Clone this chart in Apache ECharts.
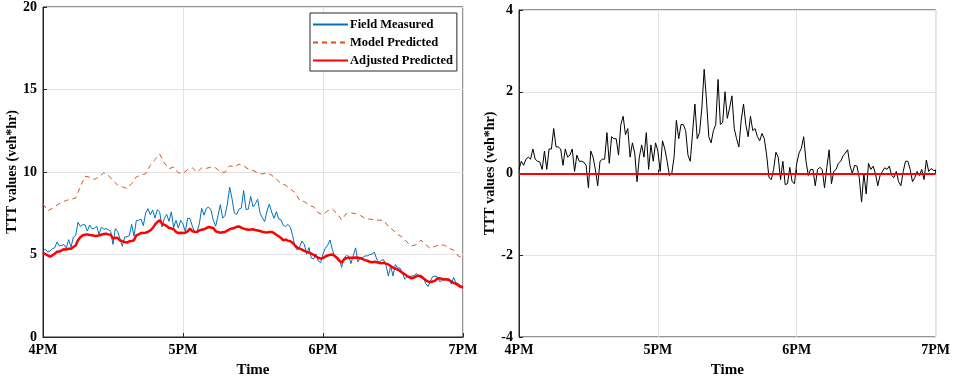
<!DOCTYPE html>
<html>
<head>
<meta charset="utf-8">
<script src="https://cdn.jsdelivr.net/npm/echarts@6/dist/echarts.min.js"></script>
<style>
  html, body { margin: 0; padding: 0; background: #fff; }
  #chart { width: 953px; height: 383px; }
</style>
</head>
<body>
<div id="chart"></div>
<script>
// Time axis: one sample per minute from 4PM (minute 0) to 7PM (minute 180)
const timeTicks = ['4PM', '5PM', '6PM', '7PM'];
const seriesNames = ['Field Measured', 'Model Predicted', 'Adjusted Predicted'];

// Total travel time, veh*hr, one value per minute
const fieldMeasured = [
  5.20,5.32,5.15,5.21,5.35,5.40,5.76,5.53,5.55,5.60,
  5.40,5.90,5.45,6.05,6.15,6.96,6.70,6.81,6.80,6.42,
  6.78,6.56,6.59,6.72,6.21,6.65,6.54,6.56,6.50,6.40,
  5.61,6.57,6.40,5.95,5.50,6.06,6.07,6.15,6.82,6.11,
  7.06,7.07,7.15,6.75,7.52,7.78,7.41,7.70,7.21,7.72,
  7.57,6.67,7.20,7.43,7.01,7.58,6.63,7.07,6.60,7.07,
  6.85,6.37,7.20,7.17,6.71,6.33,6.37,6.86,7.80,7.38,
  7.80,7.87,7.69,7.06,6.71,7.36,8.02,7.20,7.37,8.05,
  9.08,8.38,7.51,7.43,7.75,7.82,8.87,7.73,7.75,8.52,
  7.88,8.08,8.35,7.52,7.23,7.00,7.64,8.06,7.57,7.20,
  7.60,7.15,7.10,6.76,6.70,6.82,6.65,6.15,5.45,5.27,
  5.46,5.82,5.62,5.01,5.42,4.78,4.73,5.03,4.60,4.51,
  5.03,5.38,5.56,5.88,5.30,4.87,4.88,4.72,4.22,4.80,
  4.93,4.90,4.45,4.95,5.40,4.55,4.82,4.82,4.91,4.92,
  4.99,5.02,5.14,4.73,4.50,4.66,4.68,4.35,3.70,4.30,
  3.70,4.39,4.18,4.18,3.90,3.50,3.65,3.67,3.70,3.70,
  3.86,3.67,3.58,3.61,3.25,3.06,3.38,3.66,3.70,3.65,
  3.36,3.42,3.53,3.45,3.55,3.21,3.61,3.27,3.24,3.12,
  3.07
];

const adjustedPredicted = [
  5.10,5.02,4.95,4.86,4.95,5.05,5.16,5.18,5.25,5.32,
  5.30,5.35,5.35,5.45,5.55,5.86,6.05,6.16,6.20,6.22,
  6.18,6.16,6.14,6.12,6.16,6.20,6.24,6.26,6.22,6.20,
  5.96,6.02,6.00,5.85,5.80,5.76,5.72,5.80,5.82,5.86,
  6.16,6.22,6.30,6.30,6.32,6.38,6.46,6.60,6.81,6.97,
  7.07,6.87,6.80,6.73,6.61,6.58,6.53,6.37,6.30,6.32,
  6.30,6.32,6.40,6.57,6.41,6.38,6.37,6.46,6.50,6.53,
  6.60,6.67,6.64,6.61,6.41,6.36,6.32,6.35,6.37,6.45,
  6.53,6.58,6.61,6.68,6.70,6.62,6.57,6.53,6.50,6.52,
  6.53,6.48,6.45,6.42,6.38,6.35,6.34,6.36,6.37,6.30,
  6.20,6.10,6.00,5.86,5.90,5.84,5.80,5.70,5.55,5.42,
  5.36,5.30,5.22,5.16,5.12,5.05,4.98,4.88,4.80,4.76,
  4.78,4.88,4.94,4.98,5.00,4.92,4.78,4.62,4.52,4.70,
  4.78,4.80,4.80,4.80,4.82,4.80,4.77,4.72,4.66,4.62,
  4.56,4.52,4.56,4.53,4.50,4.46,4.50,4.45,4.40,4.30,
  4.20,4.14,4.08,4.00,3.90,3.80,3.70,3.62,3.56,3.60,
  3.68,3.72,3.68,3.56,3.45,3.36,3.33,3.36,3.40,3.55,
  3.56,3.52,3.48,3.50,3.45,3.36,3.28,3.22,3.12,3.04,
  3.00
];

// Model prediction, one value every 2 minutes
const modelStepMinutes = 2;
const modelPredicted = [
  8.07,7.65,7.80,8.00,8.15,8.28,8.35,8.42,9.10,9.75,
  9.68,9.55,9.70,9.95,9.80,9.48,9.20,9.10,9.00,9.30,
  9.70,9.82,9.90,10.40,10.75,11.08,10.55,10.20,10.30,9.95,
  9.92,10.15,10.25,9.98,10.25,10.22,10.30,10.25,10.00,9.98,
  10.38,10.30,10.48,10.36,10.18,10.10,9.95,9.88,9.95,9.80,
  9.58,9.28,9.20,8.98,8.75,8.28,8.20,8.00,7.88,7.52,
  7.41,7.65,7.76,7.48,7.10,7.48,7.52,7.48,7.36,7.20,
  7.14,7.12,7.08,7.07,6.70,6.48,6.22,6.05,5.75,5.52,
  5.60,5.87,5.60,5.36,5.50,5.58,5.56,5.38,5.26,4.90,
  4.80
];

// Field measured minus adjusted prediction, one value per minute
const residual = [
  0.10,0.30,0.20,0.35,0.40,0.35,0.60,0.35,0.30,0.28,
  0.10,0.55,0.10,0.60,0.60,1.10,0.65,0.65,0.60,0.20,
  0.60,0.40,0.45,0.60,0.05,0.45,0.30,0.30,0.28,0.20,
  -0.35,0.55,0.40,0.10,-0.30,0.30,0.35,0.35,1.00,0.25,
  0.90,0.85,0.85,0.45,1.20,1.40,0.95,1.10,0.40,0.75,
  0.50,-0.20,0.40,0.70,0.40,1.00,0.10,0.70,0.30,0.75,
  0.55,0.05,0.80,0.60,0.30,-0.05,0.00,0.40,1.30,0.85,
  1.20,1.20,1.05,0.45,0.30,1.00,1.70,0.85,1.00,1.60,
  2.55,1.80,0.90,0.75,1.05,1.20,2.30,1.20,1.25,2.00,
  1.35,1.60,1.90,1.10,0.85,0.65,1.30,1.70,1.20,0.90,
  1.40,1.05,1.10,0.90,0.80,0.98,0.85,0.45,-0.10,-0.15,
  0.10,0.52,0.40,-0.15,0.30,-0.27,-0.25,0.15,-0.20,-0.25,
  0.25,0.50,0.62,0.90,0.30,-0.05,0.10,0.10,-0.30,0.10,
  0.15,0.10,-0.35,0.15,0.58,-0.25,0.05,0.10,0.25,0.30,
  0.43,0.50,0.58,0.20,0.00,0.20,0.18,-0.10,-0.70,0.00,
  -0.50,0.25,0.10,0.18,0.00,-0.30,-0.05,0.05,0.14,0.10,
  0.18,-0.05,-0.10,0.05,-0.20,-0.30,0.05,0.30,0.30,0.10,
  -0.20,-0.10,0.05,-0.05,0.10,-0.15,0.33,0.05,0.12,0.08,
  0.07
];
const residualBaseline = 0;

const toPairs = (arr, step) => arr.map((v, i) => [i * step, v]);

const FONT = '"Liberation Serif", "Times New Roman", serif';
const AXIS_COLOR = '#262626';
const GRID_COLOR = '#e3e3e3';

function xAxisFor(gridIndex) {
  return {
    gridIndex, type: 'value', min: 0, max: 180, interval: 60,
    name: 'Time', nameLocation: 'middle', nameGap: 26,
    nameTextStyle: { fontFamily: FONT, fontWeight: 'bold', fontSize: 15, color: '#000' },
    axisLine: { lineStyle: { color: AXIS_COLOR, width: 1 } },
    axisTick: { inside: true, length: 4, lineStyle: { color: AXIS_COLOR } },
    axisLabel: {
      formatter: v => timeTicks[Math.round(v / 60)],
      fontFamily: FONT, fontWeight: 'bold', fontSize: 14, color: '#000', margin: 6
    },
    splitLine: { show: true, lineStyle: { color: GRID_COLOR, width: 1 } }
  };
}

function yAxisFor(gridIndex, min, max, interval, nameGap) {
  return {
    gridIndex, type: 'value', min, max, interval,
    name: 'TTT values (veh*hr)', nameLocation: 'middle', nameGap,
    nameTextStyle: { fontFamily: FONT, fontWeight: 'bold', fontSize: 14, color: '#000' },
    axisLine: { show: true, lineStyle: { color: AXIS_COLOR, width: 1 } },
    axisTick: { show: true, inside: true, length: 4, lineStyle: { color: AXIS_COLOR } },
    axisLabel: { fontFamily: FONT, fontWeight: 'bold', fontSize: 14, color: '#000', margin: 6 },
    splitLine: { show: true, lineStyle: { color: GRID_COLOR, width: 1 } }
  };
}

const chart = echarts.init(document.getElementById('chart'), null, { renderer: 'canvas' });
chart.setOption({
  animation: false,
  backgroundColor: '#fff',
  grid: [
    { left: 43, top: 6, width: 420, height: 333, show: true, borderColor: AXIS_COLOR, borderWidth: 1, backgroundColor: 'transparent' },
    { left: 519, top: 10, width: 420, height: 331, show: true, borderColor: AXIS_COLOR, borderWidth: 1, backgroundColor: 'transparent' }
  ],
  xAxis: [xAxisFor(0), xAxisFor(1)],
  yAxis: [yAxisFor(0, 0, 20, 5, 17), yAxisFor(1, -4, 4, 2, 19)],
  legend: {
    data: seriesNames,
    orient: 'vertical', left: 310, top: 13,
    itemWidth: 35, itemHeight: 13, itemGap: 5,
    padding: [5, 4, 4, 2],
    borderColor: AXIS_COLOR, borderWidth: 1, backgroundColor: '#fff',
    itemStyle: { opacity: 0 },
    textStyle: { fontFamily: FONT, fontWeight: 'bold', fontSize: 12.5, color: '#000', padding: [0, 0, 0, -3] }
  },
  series: [
    {
      name: seriesNames[0], type: 'line', xAxisIndex: 0, yAxisIndex: 0,
      data: toPairs(fieldMeasured, 1), showSymbol: false, symbol: 'none',
      lineStyle: { color: '#0072BD', width: 1 }, itemStyle: { color: '#0072BD' }, z: 3
    },
    {
      name: seriesNames[1], type: 'line', xAxisIndex: 0, yAxisIndex: 0,
      data: toPairs(modelPredicted, modelStepMinutes), showSymbol: false, symbol: 'none',
      lineStyle: { color: '#D95319', width: 1, type: [5, 4] }, itemStyle: { color: '#D95319' }, z: 2
    },
    {
      name: seriesNames[2], type: 'line', xAxisIndex: 0, yAxisIndex: 0,
      data: toPairs(adjustedPredicted, 1), showSymbol: false, symbol: 'none',
      lineStyle: { color: '#FF0000', width: 2.5 }, itemStyle: { color: '#FF0000' }, z: 4
    },
    {
      name: 'Residual', type: 'line', xAxisIndex: 1, yAxisIndex: 1,
      data: toPairs(residual, 1), showSymbol: false, symbol: 'none',
      lineStyle: { color: '#000', width: 1 }, z: 3,
      markLine: {
        silent: true, symbol: 'none', animation: false,
        label: { show: false },
        lineStyle: { color: '#FF0000', width: 2, type: 'solid' },
        data: [{ yAxis: residualBaseline }]
      }
    }
  ]
});
</script>
</body>
</html>
